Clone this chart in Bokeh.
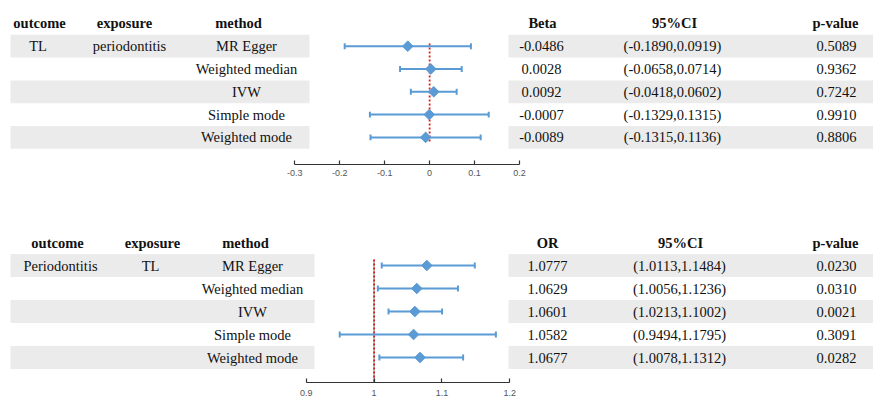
from math import pi
from bokeh.plotting import figure
from bokeh.models import ColumnDataSource, Range1d, LinearAxis, FixedTicker
from bokeh.layouts import column
from bokeh.core.properties import value
from bokeh.embed import file_html
from bokeh.resources import INLINE

# ---------------- data ----------------
methods = ["MR Egger", "Weighted median", "IVW", "Simple mode", "Weighted mode"]

top_outcome = "TL"
top_exposure = "periodontitis"
top_est = [-0.0486, 0.0028, 0.0092, -0.0007, -0.0089]
top_lo = [-0.1890, -0.0658, -0.0418, -0.1329, -0.1315]
top_hi = [0.0919, 0.0714, 0.0602, 0.1315, 0.1136]
top_p = [0.5089, 0.9362, 0.7242, 0.9910, 0.8806]
top_ticks = [-0.3, -0.2, -0.1, 0.0, 0.1, 0.2]
top_tick_labels = ["-0.3", "-0.2", "-0.1", "0", "0.1", "0.2"]
top_ref = 0.0

bot_outcome = "Periodontitis"
bot_exposure = "TL"
bot_est = [1.0777, 1.0629, 1.0601, 1.0582, 1.0677]
bot_lo = [1.0113, 1.0056, 1.0213, 0.9494, 1.0078]
bot_hi = [1.1484, 1.1236, 1.1002, 1.1795, 1.1312]
bot_p = [0.0230, 0.0310, 0.0021, 0.3091, 0.0282]
bot_ticks = [0.9, 1.0, 1.1, 1.2]
bot_tick_labels = ["0.9", "1", "1.1", "1.2"]
bot_ref = 1.0

# ---------------- styling ----------------
W = 873
BLUE = "#5B9BD5"
RED = "#d9211e"
SHADE = "#ebebeb"
SERIF = value("Liberation Serif")
FS = "14.5px"


def make_panel(frame_h, border_b, px0, pitch, ax_a, ax_b, est, lo, hi, p,
               outcome, exposure, est_name, ticks, tick_labels, ref,
               ref_k0, ref_k1, cols, shade_left_end, standoff, dark_ref=False):
    y_range = Range1d((frame_h - px0) / pitch, -px0 / pitch)
    (va, pa), (vb, pb) = ax_a, ax_b
    scale = (pb - pa) / (vb - va)
    fstart = va - pa / scale
    fend = fstart + W / scale

    p_ = figure(frame_width=W, frame_height=frame_h,
                min_border_left=0, min_border_right=0, min_border_top=0,
                min_border_bottom=border_b,
                x_range=Range1d(0, W), y_range=y_range,
                x_axis_location=None, y_axis_location=None,
                toolbar_location=None, output_backend="svg",
                outline_line_color=None, background_fill_color="white",
                border_fill_color="white")
    p_.xgrid.visible = False
    p_.ygrid.visible = False
    p_.extra_x_ranges = {"forest": Range1d(fstart, fend)}

    n = len(est)
    ks = list(range(1, n + 1))
    shaded = [k for k in ks if k % 2 == 1]

    # row shading
    p_.quad(left=[10] * len(shaded), right=[shade_left_end] * len(shaded),
            top=[k - 0.5 for k in shaded], bottom=[k + 0.5 for k in shaded],
            fill_color=SHADE, line_color=None)
    p_.quad(left=[508] * len(shaded), right=[W] * len(shaded),
            top=[k - 0.5 for k in shaded], bottom=[k + 0.5 for k in shaded],
            fill_color=SHADE, line_color=None)

    # headers
    hx = cols["header"]
    headers = ["outcome", "exposure", "method", est_name, "95%CI", "p-value"]
    p_.text(x=hx, y=[0] * len(hx), text=headers, text_font=SERIF,
            text_font_size=FS, text_font_style="bold", text_align="center",
            text_baseline="middle", text_color="#111111")

    # body
    vx = cols["values"]
    xs, ys, txt = [], [], []
    xs += [vx[0], vx[1]]; ys += [1, 1]; txt += [outcome, exposure]
    for i, k in enumerate(ks):
        xs += [vx[2], vx[3], vx[4], vx[5]]
        ys += [k] * 4
        txt += [methods[i], f"{est[i]:.4f}", f"({lo[i]:.4f},{hi[i]:.4f})",
                f"{p[i]:.4f}"]
    p_.text(x=xs, y=ys, text=txt, text_font=SERIF, text_font_size=FS,
            text_align="center", text_baseline="middle", text_color="#111111")

    # reference line
    if dark_ref:
        p_.segment(x0=[ref], y0=[ref_k0], x1=[ref], y1=[ref_k1],
                   line_color="#555555", line_width=0.8, x_range_name="forest")
    p_.segment(x0=[ref], y0=[ref_k0], x1=[ref], y1=[ref_k1],
               line_color=RED, line_width=1.8, line_dash="2 2",
               x_range_name="forest")

    # forest
    src = ColumnDataSource(dict(y=ks, est=est, lo=lo, hi=hi,
                                ylo=[k - 0.13 for k in ks],
                                yhi=[k + 0.13 for k in ks]))
    p_.segment(x0="lo", y0="y", x1="hi", y1="y", source=src,
               line_color=BLUE, line_width=2, x_range_name="forest")
    p_.segment(x0="lo", y0="ylo", x1="lo", y1="yhi", source=src,
               line_color=BLUE, line_width=2, x_range_name="forest")
    p_.segment(x0="hi", y0="ylo", x1="hi", y1="yhi", source=src,
               line_color=BLUE, line_width=2, x_range_name="forest")
    p_.scatter(x="est", y="y", source=src, marker="square", angle=pi / 4,
               size=7.5, fill_color=BLUE, line_color=BLUE,
               x_range_name="forest")

    ax = LinearAxis(x_range_name="forest", ticker=FixedTicker(ticks=ticks),
                    bounds=(ticks[0], ticks[-1]),
                    major_label_overrides={t: l for t, l in zip(ticks, tick_labels)})
    ax.axis_line_color = "#333333"
    ax.axis_line_width = 1.2
    ax.major_tick_line_color = "#333333"
    ax.major_tick_line_width = 1.2
    ax.major_tick_in = 4
    ax.major_tick_out = 0
    ax.minor_tick_line_color = None
    ax.major_label_text_font = "Liberation Sans"
    ax.major_label_text_font_size = "9px"
    ax.major_label_text_color = "#555555"
    ax.major_label_standoff = standoff
    p_.add_layout(ax, "below")
    return p_


top = make_panel(frame_h=164, border_b=20, px0=22.9, pitch=22.8,
                 ax_a=(-0.3, 294.3), ax_b=(0.2, 519.0),
                 est=top_est, lo=top_lo, hi=top_hi, p=top_p,
                 outcome=top_outcome, exposure=top_exposure, est_name="Beta",
                 ticks=top_ticks, tick_labels=top_tick_labels, ref=top_ref,
                 ref_k0=0.88, ref_k1=5.22,
                 cols=dict(header=[39, 124, 238, 542, 674, 835],
                           values=[37.5, 129, 246, 541, 672, 836]),
                 shade_left_end=309, standoff=5)

bottom = make_panel(frame_h=198, border_b=18, px0=58, pitch=23,
                    ax_a=(0.9, 305.7), ax_b=(1.2, 509.3),
                    est=bot_est, lo=bot_lo, hi=bot_hi, p=bot_p,
                    outcome=bot_outcome, exposure=bot_exposure, est_name="OR",
                    ticks=bot_ticks, tick_labels=bot_tick_labels, ref=bot_ref,
                    ref_k0=0.74, ref_k1=6.087,
                    cols=dict(header=[57, 152, 245, 547, 680, 835],
                              values=[60, 150, 252, 547, 679, 836]),
                    shade_left_end=314, standoff=7, dark_ref=True)

layout = column(top, bottom, spacing=0)
open("out.html", "w").write(file_html(layout, INLINE))
